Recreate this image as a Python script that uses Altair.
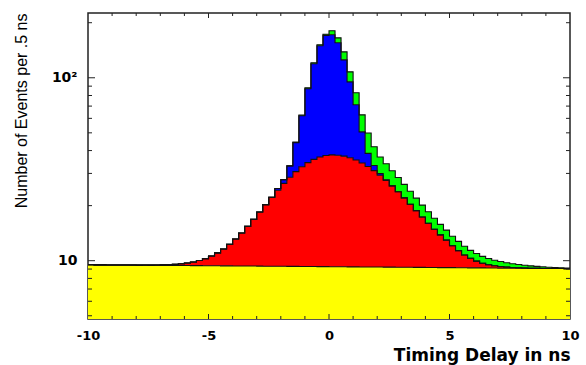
import altair as alt
import pandas as pd

# ---------------- data ----------------
x_min, x_max, bin_w = -10.0, 10.0, 0.25
n_bins = 80
bin_starts = [x_min + bin_w * i for i in range(n_bins)]

# flat background (yellow)
flat = [9.50, 9.49, 9.49, 9.48, 9.48, 9.47, 9.47, 9.46, 9.45, 9.45,
        9.44, 9.44, 9.43, 9.43, 9.42, 9.41, 9.41, 9.40, 9.40, 9.39,
        9.39, 9.38, 9.37, 9.37, 9.36, 9.36, 9.35, 9.35, 9.34, 9.33,
        9.33, 9.32, 9.32, 9.31, 9.31, 9.30, 9.29, 9.29, 9.28, 9.28,
        9.27, 9.27, 9.26, 9.25, 9.25, 9.24, 9.24, 9.23, 9.23, 9.22,
        9.22, 9.21, 9.20, 9.20, 9.19, 9.19, 9.18, 9.18, 9.17, 9.16,
        9.16, 9.15, 9.15, 9.14, 9.14, 9.13, 9.12, 9.12, 9.11, 9.11,
        9.10, 9.10, 9.09, 9.08, 9.08, 9.07, 9.07, 9.06, 9.06, 9.05]

# broad component (red)
wide = [0.0, 0.0, 0.0, 0.0, 0.0, 0.0, 0.0, 0.01, 0.01, 0.02,
        0.02, 0.04, 0.06, 0.09, 0.14, 0.21, 0.31, 0.44, 0.63, 0.88,
        1.22, 1.66, 2.21, 2.91, 3.78, 4.81, 6.05, 7.48, 9.11, 10.93,
        12.89, 14.97, 17.13, 19.29, 21.38, 23.34, 25.08, 26.53, 27.63, 28.33,
        28.6, 28.47, 28.02, 27.27, 26.24, 24.97, 23.49, 21.84, 20.09, 18.27,
        16.42, 14.60, 12.84, 11.15, 9.58, 8.14, 6.84, 5.68, 4.67, 3.79,
        2.9, 2.2, 1.6, 1.15, 0.8, 0.55, 0.38, 0.26, 0.18, 0.12,
        0.08, 0.05, 0.03, 0.02, 0.01, 0.0, 0.0, 0.0, 0.0, 0.0]

# narrow prompt peak (blue)
narrow = [0.0] * 31 + [0.5, 1.3, 4.4, 13.5, 29.4, 52.7, 83.5, 112.7, 133.0, 134.0,
                       117.6, 88.0, 58.5, 35.7, 16.4, 5.9, 2.1, 0.6, 0.2] + [0.0] * 30

# delayed tail (green)
tail = [0.0] * 34 + [0.3, 0.6, 1.0, 1.5, 2.0, 2.2, 8.8, 10.0, 13.3, 12.7,
                     11.6, 12.1, 11.3, 8.8, 7.0, 6.2, 5.4, 4.7, 4.1, 3.6,
                     3.2, 2.8, 2.5, 2.2, 1.95, 1.75, 1.55, 1.4, 1.25, 1.1,
                     1.0, 0.88, 0.78, 0.68, 0.6, 0.52, 0.45, 0.38, 0.32, 0.27,
                     0.22, 0.18, 0.14, 0.11, 0.09, 0.07]

layer_names = ["flat", "wide", "narrow", "tail"]
layer_colors = ["#ffff00", "#ff0000", "#0000ff", "#00ff00"]

x_major_ticks = [-5, 0, 5]
x_minor_ticks = [-9, -8, -7, -6, -4, -3, -2, -1, 1, 2, 3, 4, 6, 7, 8, 9]
y_major_ticks = [10, 100]
y_minor_ticks = [5, 6, 7, 8, 9, 20, 30, 40, 50, 60, 70, 80, 90, 200]

for s in (flat, wide, narrow, tail):
    assert len(s) == n_bins

# ---------------- build stacked table ----------------
floor_value = 1.0  # below the visible range; clipped by the plot area
rows = []
cum = [0.0] * n_bins
for k, (name, series) in enumerate(zip(layer_names, [flat, wide, narrow, tail])):
    upper = [cum[i] + series[i] for i in range(n_bins)]
    lower = [floor_value] * n_bins if k == 0 else cum
    for i in range(n_bins):
        rows.append({"layer": name, "x": bin_starts[i], "lo": lower[i], "hi": upper[i]})
    rows.append({"layer": name, "x": x_max, "lo": lower[-1], "hi": upper[-1]})
    cum = upper
df = pd.DataFrame(rows)

W, H = 482, 306
xscale = alt.Scale(domain=[x_min, x_max], nice=False, zero=False)
yscale = alt.Scale(type="log", domain=[4.8, 226], nice=False)

xaxis = alt.Axis(
    values=[-10, -5, 0, 5, 10], labelExpr="'' + datum.value",
    labelFlush=False, labelOverlap=False,
    ticks=False, domain=False, grid=False, labelPadding=10,
    labelFont="DejaVu Sans", labelFontWeight="bold", labelFontSize=13, labelColor="black",
    title="Timing Delay in ns", titleFont="DejaVu Sans", titleFontWeight="bold",
    titleFontSize=17, titleColor="black", titleAlign="right", titleAnchor="end",
    titleX=W, titleY=41, titleBaseline="alphabetic",
)
yaxis = alt.Axis(
    values=[10, 100], labelExpr="datum.value == 100 ? '10²' : '10'",
    ticks=False, domain=False, grid=False, labelPadding=11, labelOverlap=False,
    labelFont="DejaVu Sans", labelFontWeight="bold", labelFontSize=14, labelColor="black",
    labelBaseline="middle",
    title="Number of Events per .5 ns", titleFont="Liberation Sans", titleFontWeight="normal",
    titleFontSize=16, titleColor="black", titleAngle=270, titleAlign="right",
    titleBaseline="middle", titleX=-67, titleY=0,
)

area = alt.Chart(df).mark_area(interpolate="step-after", clip=True).encode(
    x=alt.X("x:Q", scale=xscale, axis=xaxis),
    y=alt.Y("hi:Q", scale=yscale, axis=yaxis),
    y2="lo:Q",
    color=alt.Color("layer:N", scale=alt.Scale(domain=layer_names, range=layer_colors), legend=None),
)

outline = alt.Chart(df).mark_line(
    interpolate="step-after", color="#111111", strokeWidth=1.1, clip=True
).encode(x="x:Q", y="hi:Q", detail="layer:N")

tick_color = "#222222"
xmaj = pd.DataFrame({"x": x_major_ticks})
xmin_ = pd.DataFrame({"x": x_minor_ticks})
ymaj = pd.DataFrame({"hi": y_major_ticks})
ymin_ = pd.DataFrame({"hi": y_minor_ticks})

ticks = [
    alt.Chart(xmaj).mark_rule(color=tick_color).encode(x="x:Q", y=alt.value(H), y2=alt.value(H - 5)),
    alt.Chart(xmin_).mark_rule(color=tick_color).encode(x="x:Q", y=alt.value(H), y2=alt.value(H - 3)),
    alt.Chart(xmaj).mark_rule(color=tick_color).encode(x="x:Q", y=alt.value(0), y2=alt.value(5)),
    alt.Chart(xmin_).mark_rule(color=tick_color).encode(x="x:Q", y=alt.value(0), y2=alt.value(3)),
    alt.Chart(ymaj).mark_rule(color=tick_color).encode(y="hi:Q", x=alt.value(0), x2=alt.value(7)),
    alt.Chart(ymin_).mark_rule(color=tick_color).encode(y="hi:Q", x=alt.value(0), x2=alt.value(4)),
    alt.Chart(ymaj).mark_rule(color=tick_color).encode(y="hi:Q", x=alt.value(W), x2=alt.value(W - 7)),
    alt.Chart(ymin_).mark_rule(color=tick_color).encode(y="hi:Q", x=alt.value(W), x2=alt.value(W - 4)),
]

chart = alt.layer(area, outline, *ticks).properties(
    width=W, height=H,
    autosize=alt.AutoSizeParams(type="none"),
    padding={"left": 88, "top": 13, "right": 16, "bottom": 46},
    background="white",
).configure_view(stroke="#222222", strokeWidth=1.5)

chart.save("out.html", embed_options={"renderer": "svg", "actions": False})
